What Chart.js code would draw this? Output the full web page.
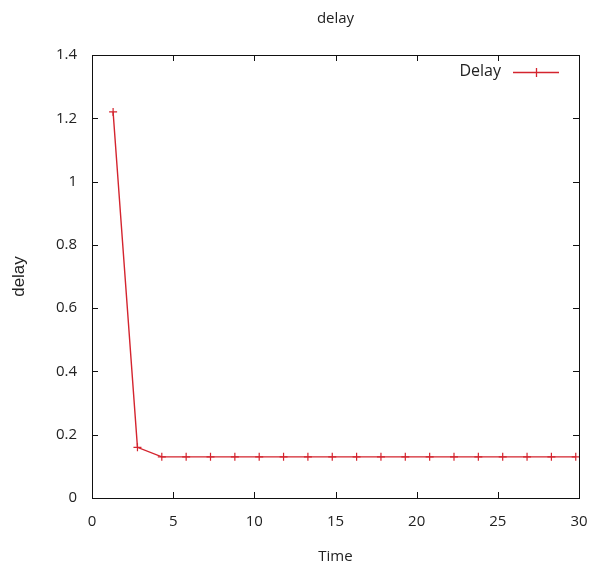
<!DOCTYPE html>
<html>
<head>
<meta charset="utf-8">
<script src="https://cdn.jsdelivr.net/npm/chart.js@4"></script>
<style>
  body { margin: 0; background: #fff; }
  #wrap { width: 592px; height: 566px; }
</style>
</head>
<body>
<div id="wrap"><canvas id="delayChart" width="592" height="566"></canvas></div>
<script>
// données
const timeValues = [1.3, 2.8, 4.3, 5.8, 7.3, 8.8, 10.3, 11.8, 13.3, 14.8, 16.3, 17.8, 19.3, 20.8, 22.3, 23.8, 25.3, 26.8, 28.3, 29.8];
const delayValues = [1.22, 0.16, 0.13, 0.13, 0.13, 0.13, 0.13, 0.13, 0.13, 0.13, 0.13, 0.13, 0.13, 0.13, 0.13, 0.13, 0.13, 0.13, 0.13, 0.13];
const xTicks = [0, 5, 10, 15, 20, 25, 30];
const yTicks = [0, 0.2, 0.4, 0.6, 0.8, 1, 1.2, 1.4];

const red = 'rgb(212, 36, 46)';
const fontFamily = '"Open Sans", "DejaVu Sans", sans-serif';

const points = timeValues.map((t, i) => ({ x: t, y: delayValues[i] }));

// cadre + graduations vers l'intérieur, façon gnuplot
const boxPlugin = {
  id: 'boxPlugin',
  afterDraw(chart) {
    const { ctx, chartArea: a, scales } = chart;
    ctx.save();
    ctx.strokeStyle = '#111';
    ctx.lineWidth = 1;
    ctx.strokeRect(Math.round(a.left) + 0.5, Math.round(a.top) + 0.5, Math.round(a.right - a.left), Math.round(a.bottom - a.top));
    const len = 6;
    ctx.beginPath();
    xTicks.forEach(v => {
      const px = Math.round(scales.x.getPixelForValue(v)) + 0.5;
      ctx.moveTo(px, a.bottom); ctx.lineTo(px, a.bottom - len);
      ctx.moveTo(px, a.top); ctx.lineTo(px, a.top + len);
    });
    yTicks.forEach(v => {
      const py = Math.round(scales.y.getPixelForValue(v)) + 0.5;
      ctx.moveTo(a.left, py); ctx.lineTo(a.left + len, py);
      ctx.moveTo(a.right, py); ctx.lineTo(a.right - len, py);
    });
    ctx.stroke();

    // légende : texte puis échantillon de ligne
    const ds = chart.data.datasets[0];
    const ly = 72;
    ctx.fillStyle = '#222';
    ctx.font = '16px ' + fontFamily;
    ctx.textAlign = 'right';
    ctx.textBaseline = 'middle';
    ctx.fillText(ds.label, 501, ly - 1);
    ctx.strokeStyle = red;
    ctx.lineWidth = 1.3;
    ctx.beginPath();
    ctx.moveTo(513, ly + 0.5); ctx.lineTo(559, ly + 0.5);
    ctx.moveTo(536.5, ly - 4); ctx.lineTo(536.5, ly + 5);
    ctx.stroke();
    ctx.restore();
  }
};

const ctx = document.getElementById('delayChart').getContext('2d');
new Chart(ctx, {
  type: 'scatter',
  data: {
    datasets: [{
      label: 'Delay',
      data: points,
      showLine: true,
      borderColor: red,
      backgroundColor: red,
      borderWidth: 1.4,
      pointStyle: 'cross',
      pointRadius: 4,
      pointBorderWidth: 1.2,
      pointBorderColor: red,
      tension: 0
    }]
  },
  options: {
    responsive: false,
    animation: false,
    layout: { padding: { top: 0, right: 13, bottom: 0, left: 0 } },
    plugins: {
      legend: { display: false },
      tooltip: { enabled: false },
      title: {
        display: true,
        text: 'delay',
        fullSize: false,
        color: '#222',
        font: { family: fontFamily, size: 15, weight: 'normal' },
        padding: { top: 10, bottom: 27 }
      }
    },
    scales: {
      x: {
        type: 'linear',
        min: 0,
        max: 30,
        afterBuildTicks: s => { s.ticks = xTicks.map(v => ({ value: v })); },
        afterFit: s => { s.height = 68; s.paddingLeft = 0; s.paddingRight = 0; },
        grid: { display: false, drawTicks: false },
        border: { display: false },
        ticks: {
          padding: 15,
          color: '#222',
          maxRotation: 0,
          font: { family: fontFamily, size: 15 },
          callback: v => String(v)
        },
        title: {
          display: true,
          text: 'Time',
          color: '#222',
          font: { family: fontFamily, size: 15 },
          padding: { top: 0, bottom: 0 }
        }
      },
      y: {
        type: 'linear',
        min: 0,
        max: 1.4,
        afterBuildTicks: s => { s.ticks = yTicks.map(v => ({ value: v })); },
        afterFit: s => { s.width = 92; s.paddingTop = 0; s.paddingBottom = 0; },
        grid: { display: false, drawTicks: false },
        border: { display: false },
        ticks: {
          padding: 15,
          color: '#222',
          font: { family: fontFamily, size: 15 },
          callback: v => String(parseFloat(v.toFixed(1)))
        },
        title: {
          display: true,
          text: 'delay',
          color: '#222',
          font: { family: '"Liberation Sans", Arial, sans-serif', size: 17 },
          padding: { top: 9, bottom: 0 }
        }
      }
    }
  },
  plugins: [boxPlugin]
});
</script>
</body>
</html>
